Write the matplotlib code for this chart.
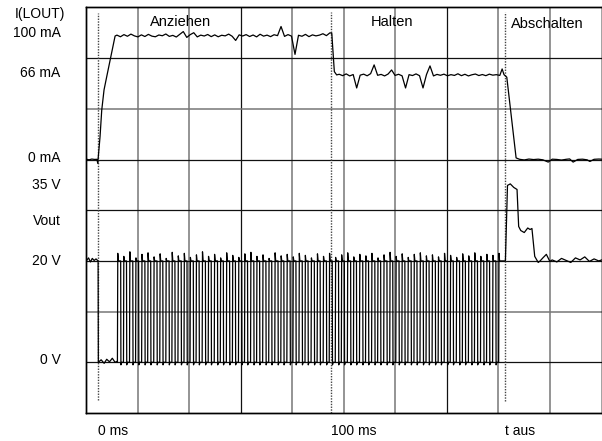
import numpy as np
import matplotlib
matplotlib.use("Agg")
import matplotlib.pyplot as plt
import matplotlib.transforms as mtransforms

plt.rcParams['font.family'] = ['Liberation Sans', 'DejaVu Sans']

# --- data (time in ms) ---
# coil current I(LOUT) in mA
i_t = [-5.2, -4.0, -2.8, -1.6, -0.6, -0.26, 0.73, 1.46, 2.45, 3.6, 7.2,
       8.0, 9.5, 11.0, 12.5, 14.0, 15.5, 17.0, 18.5, 20.0, 21.5, 23.0, 24.5,
       26.0, 27.5, 29.0, 30.5, 32.0, 33.5, 35.0, 36.5, 38.0, 39.5, 41.0, 42.5,
       44.0, 45.5, 47.0, 48.5, 50.0, 51.5, 53.0, 54.5, 56.0, 57.5, 59.0, 60.5,
       62.0, 63.5, 65.0, 66.5, 68.0, 69.5, 71.0, 72.5, 74.0, 75.5, 77.0, 78.5,
       80.0, 81.5, 83.0, 84.5, 86.0, 87.5, 89.0, 90.5, 92.0, 93.5, 95.0, 96.5,
       98.0, 99.5,
       100.3, 101.4, 102.4,
       103.5, 105.0, 106.5, 108.0, 109.5, 111.0, 112.5, 114.0, 115.5, 117.0,
       118.5, 120.0, 121.5, 123.0, 124.5, 126.0, 127.5, 129.0, 130.5, 132.0,
       133.5, 135.0, 136.5, 138.0, 139.5, 141.0, 142.5, 144.0, 145.5, 147.0,
       148.5, 150.0, 151.5, 153.0, 154.5, 156.0, 157.5, 159.0, 160.5, 162.0,
       163.5, 165.0, 166.5, 168.0, 169.5, 171.0, 172.5,
       173.5, 174.3, 175.5, 179.5,
       181.0, 183.0, 185.0, 187.0, 189.0, 191.0, 193.3, 195.0, 197.0, 199.0,
       201.0, 202.5, 204.0, 206.0, 208.0, 210.0, 211.2, 213.0, 215.0, 216.3]
i_ma = [0.3, -0.2, 0.4, 0.1, 0.2, -2.9, 18.0, 39.0, 55.0, 65.4, 97.5,
        98.2, 96.9, 98.6, 97.3, 99.0, 97.6, 96.8, 98.4, 97.1, 98.8, 97.4, 96.9,
        98.3, 97.7, 99.1, 97.2, 98.0, 96.7, 98.9, 101.0, 96.4, 98.6, 100.1, 96.8,
        98.2, 97.5, 98.7, 97.0, 98.4, 96.9, 98.1, 97.6, 99.0, 97.3, 94.0, 98.4,
        97.5, 98.6, 97.1, 98.3, 96.8, 98.9, 97.4, 98.2, 97.0, 98.5, 97.8, 105.0,
        97.2, 98.6, 97.4, 83.0, 98.1, 97.3, 98.8, 97.0, 98.4, 97.6, 98.2, 99.3,
        97.8, 100.0,
        99.7, 69.4, 66.8,
        67.3, 66.2, 67.6, 66.0, 67.1, 56.5, 66.6, 67.4, 66.1, 67.8,
        74.7, 66.5, 67.2, 66.0, 67.5, 70.7, 66.4, 67.3, 66.1, 56.5,
        67.0, 66.3, 67.6, 66.2, 56.5, 67.1, 73.9, 66.0, 67.2, 66.5,
        67.4, 66.1, 67.0, 66.4, 67.7, 66.2, 67.3, 66.0, 66.9, 67.5,
        66.3, 67.1, 66.2, 67.4, 66.6, 67.0, 66.4,
        71.5, 67.0, 65.0, 1.3,
        0.2, -0.3, 0.4, 0.0, 0.3, -0.2, -2.0, 0.3, 0.1, -0.4,
        0.2, 0.5, -2.0, 0.1, 0.3, -0.2, -1.5, 0.2, 0.4, 0.3]

# Vout in V: level before/after, PWM edges, clamp after switch-off
v_pre_t = [-5.2, -4.2, -3.4, -2.6, -1.8, -1.0, -0.1]
v_pre_v = [20.0, 20.6, 19.8, 20.5, 20.1, 20.4, 20.0]
v_low_t = [0.0, 1.2, 2.5, 3.6, 4.8, 6.0, 7.2, 8.1]
v_low_v = [0.0, 0.5, -0.2, 0.6, 0.1, 0.8, 0.0, 0.2]
pulse_on = [8.2, 10.8, 13.4, 16.0, 18.6, 21.2, 23.8, 26.4, 29.0, 31.6, 34.2,
            36.8, 39.4, 42.0, 44.6, 47.2, 49.8, 52.4, 55.0, 57.6, 60.2, 62.8,
            65.4, 68.0, 70.6, 73.2, 75.8, 78.4, 81.0, 83.6, 86.2, 88.8, 91.4,
            94.0, 96.6, 99.2, 101.8, 104.4, 107.0, 109.6, 112.2, 114.8, 117.4,
            120.0, 122.6, 125.2, 127.8, 130.4, 133.0, 135.6, 138.2, 140.8,
            143.4, 146.0, 148.6, 151.2, 153.8, 156.4, 159.0, 161.6, 164.2,
            166.8, 169.4, 172.0]
pulse_off = [9.6, 12.1, 14.8, 17.3, 20.0, 22.5, 25.2, 27.7, 30.4, 32.9, 35.6,
             38.1, 40.8, 43.3, 46.0, 48.5, 51.2, 53.7, 56.4, 58.9, 61.6, 64.1,
             66.8, 69.3, 72.0, 74.5, 77.2, 79.7, 82.4, 84.9, 87.6, 90.1, 92.8,
             95.3, 98.0, 100.5, 103.2, 105.7, 108.4, 110.9, 113.6, 116.1, 118.8,
             121.3, 124.0, 126.5, 129.2, 131.7, 134.4, 136.9, 139.6, 142.1,
             144.8, 147.3, 150.0, 152.5, 155.2, 157.7, 160.4, 162.9, 165.6,
             168.1, 170.8]
pulse_peak = [21.5, 20.9, 21.8, 20.6, 21.3, 21.6, 20.8, 21.4, 20.5, 21.7,
              21.0, 21.5, 20.7, 21.2, 21.8, 20.9, 21.3, 20.6, 21.6, 21.1,
              20.7, 21.4, 21.7, 20.9, 21.2, 20.5, 21.6, 21.0, 21.3, 20.8,
              21.5, 21.1, 20.6, 21.4, 20.9, 21.5, 20.7, 21.2, 21.6, 20.8,
              21.3, 21.0, 21.5, 20.6, 21.2, 21.7, 20.9, 21.4, 20.7, 21.3,
              21.6, 21.0, 21.2, 20.8, 21.5, 21.1, 20.7, 21.4, 21.0, 21.6,
              20.9, 21.3, 21.1, 21.5]
v_post_t = [174.9, 175.8, 177.0, 178.5, 179.9, 180.6, 181.5, 183.0, 184.5,
            185.5, 186.3, 187.5, 189.0, 189.8, 191.0, 192.5, 194.0, 195.0,
            197.0, 199.0, 201.0, 203.0, 205.0, 207.0, 209.0, 211.0, 213.0,
            215.0, 216.3]
v_post_v = [20.0, 34.9, 35.2, 34.5, 34.1, 26.8, 26.0, 25.6, 26.5, 26.2,
            26.4, 20.9, 19.7, 20.0, 20.6, 21.3, 19.9, 20.2, 19.8, 20.5,
            20.1, 19.7, 20.6, 20.2, 20.8, 19.9, 20.4, 20.0, 20.2]

t_marks = [0, 100, 174.8]
t_labels = ['0 ms', '100 ms', 't aus']
phases = ['Anziehen', 'Halten', 'Abschalten']
phase_t = [35.5, 126.2, 193.0]

# build Vout trace from the edge lists
v_t = list(v_pre_t) + list(v_low_t)
v_v = list(v_pre_v) + list(v_low_v)
for k, t_on in enumerate(pulse_on):
    v_t += [t_on, t_on + 0.15, t_on + 0.4]
    v_v += [0.0, pulse_peak[k], 20.0]
    if k < len(pulse_off):
        v_t += [pulse_off[k], pulse_off[k] + 0.1, pulse_off[k] + 0.4]
        v_v += [20.0, -0.5, 0.0]
v_t += v_post_t
v_v += v_post_v

fig = plt.figure(figsize=(6.02, 4.41), dpi=100)
ax = fig.add_axes([0.1434, 0.0635, 0.8558, 0.9195])
axv = ax.twinx()
axv.set_position(ax.get_position())

xlim = (-5.16, 216.2)
ax.set_xlim(*xlim)
axv.set_xlim(*xlim)
ax.set_ylim(-200, 120)     # 40 mA / div
axv.set_ylim(-10, 70)      # 10 V / div

# screen grid: 10 x 8 divisions, some lines darker
dark, light = '#111111', '#777777'
vcols = [light, light, dark, light, light, light, dark, light, light]
for k, xg in enumerate(np.linspace(xlim[0], xlim[1], 11)[1:-1]):
    ax.axvline(xg, color=vcols[k], lw=1.1 if vcols[k] == light else 0.9, zorder=1)
hcols = [dark, light, dark, dark, dark, light, dark]
for k, yg in enumerate(np.linspace(-200, 120, 9)[1:-1][::-1]):
    ax.axhline(yg, color=hcols[k], lw=1.1 if hcols[k] == light else 0.9, zorder=1)

# dotted markers
ax.axvline(t_marks[0], ymin=0.032, ymax=0.986, color='#444444', lw=1, ls=(0, (1, 1)), zorder=2)
ax.axvline(t_marks[1], ymin=0.0, ymax=0.99, color='#444444', lw=1, ls=(0, (1, 1)), zorder=2)
ax.axvline(t_marks[2], ymin=0.029, ymax=0.99, color='#444444', lw=1, ls=(0, (1, 1)), zorder=2)

ax.plot(i_t, i_ma, color='black', lw=0.9, zorder=3)
axv.plot(v_t, v_v, color='black', lw=0.9, zorder=3)

for a in (ax, axv):
    a.set_xticks([])
    a.set_yticks([])
    for s in a.spines.values():
        s.set_color('black')
        s.set_linewidth(1)

lab = dict(fontsize=10, ha='right', va='center')
ti = mtransforms.blended_transform_factory(ax.transAxes, ax.transData)
tv = mtransforms.blended_transform_factory(axv.transAxes, axv.transData)
ax.text(-0.1384, 0.985, 'I(LOUT)', transform=ax.transAxes, fontsize=10, ha='left', va='center')
ax.text(-0.05, 100, '100 mA', transform=ti, **lab)
ax.text(-0.05, 68, '66 mA', transform=ti, **lab)
ax.text(-0.05, 1.5, '0 mA', transform=ti, **lab)
axv.text(-0.05, 35, '35 V', transform=tv, **lab)
axv.text(-0.05, 27.9, 'Vout', transform=tv, **lab)
axv.text(-0.05, 20, '20 V', transform=tv, **lab)
axv.text(-0.05, 0.5, '0 V', transform=tv, **lab)

tb = mtransforms.blended_transform_factory(ax.transData, ax.transAxes)
for t0, s in zip(t_marks, t_labels):
    ax.text(t0, -0.044, s, transform=tb, fontsize=10, ha='left', va='center')
for t0, s, yy in zip(phase_t, phases, [0.964, 0.964, 0.959]):
    ax.text(t0, yy, s, transform=tb, fontsize=10.5, ha='center', va='center',
            zorder=5)

fig.savefig('out.png', dpi=100)
